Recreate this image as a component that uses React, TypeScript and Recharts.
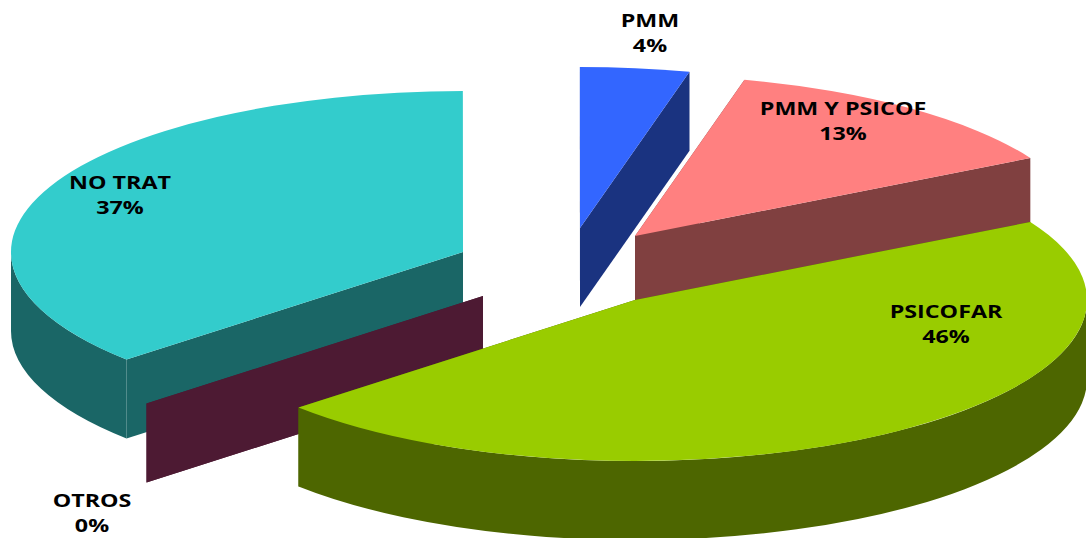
// @ts-nocheck
import { PieChart, Pie, Cell } from 'recharts'

// drawn back to front, going counter-clockwise from the pink slice
const names = ['PMM Y PSICOF', 'PMM', 'NO TRAT', 'OTROS', 'PSICOFAR']
const shares = [13.05, 3.9, 36.63, 0, 46.42]
const labels = ['13%', '4%', '37%', '0%', '46%']
const topColors = ['#ff8080', '#3366ff', '#33cccc', '#993366', '#99cc00']
const sideColors = ['#804040', '#1a3380', '#1a6666', '#4d1a33', '#4d6600']

const slices = names.map((name, i) => ({ name, value: shares[i], pct: labels[i] }))

const RX = 452
const RY = 161
const DEPTH = 79

// how far each slice is pulled out of the pie
const explode = {
  'PMM Y PSICOF': [0, -64],
  PMM: [-55, -72],
  'NO TRAT': [-172, -48],
  OTROS: [-152, -4],
  PSICOFAR: [0, 0],
}

const labelAt = {
  'PMM Y PSICOF': [843, 115],
  PMM: [650, 27],
  'NO TRAT': [120, 189],
  OTROS: [92, 507],
  PSICOFAR: [946, 318],
}

const rad = (a) => (a * Math.PI) / 180

function Slice3D(props) {
  const { cx, cy, startAngle, endAngle, name, index } = props
  const [dx, dy] = explode[name]
  const x = cx + dx
  const y = cy + dy
  const pt = (a) => [x + RX * Math.cos(rad(a)), y - RY * Math.sin(rad(a))]
  const [sx, sy] = pt(startAngle)
  const [ex, ey] = pt(endAngle)
  const large = endAngle - startAngle > 180 ? 1 : 0

  const wall = (px, py) =>
    `M${x},${y} L${px},${py} L${px},${py + DEPTH} L${x},${y + DEPTH} Z`

  // the rim only shows on the lower half of the ellipse
  const rims = []
  for (const [lo, hi] of [[180, 360], [540, 720]]) {
    const a = Math.max(startAngle, lo)
    const b = Math.min(endAngle, hi)
    if (b > a) {
      const [ax, ay] = pt(a)
      const [bx, by] = pt(b)
      rims.push(
        `M${ax},${ay} A${RX},${RY} 0 0 0 ${bx},${by} L${bx},${by + DEPTH} A${RX},${RY} 0 0 1 ${ax},${ay + DEPTH} Z`
      )
    }
  }

  const side = sideColors[index]
  return (
    <g>
      <path d={wall(sx, sy)} fill={side} />
      <path d={wall(ex, ey)} fill={side} />
      {rims.map((d, i) => (
        <path key={i} d={d} fill={side} />
      ))}
      {endAngle > startAngle && (
        <path
          d={`M${x},${y} L${sx},${sy} A${RX},${RY} 0 ${large} 0 ${ex},${ey} Z`}
          fill={topColors[index]}
        />
      )}
    </g>
  )
}

function SliceLabel({ name, pct }) {
  const [x, y] = labelAt[name]
  // the original text is stretched sideways
  return (
    <text
      transform={`translate(${x},${y}) scale(1.37,1)`}
      textAnchor="middle"
      fontFamily="'Open Sans', sans-serif"
      fontWeight="700"
      fontSize={17}
      fill="#000"
    >
      <tspan x={0} y={0}>{name}</tspan>
      <tspan x={0} y={25}>{pct}</tspan>
    </text>
  )
}

export default function App() {
  return (
    <div style={{ position: 'absolute', left: 0, top: 0, width: 1086, height: 538, background: '#fff' }}>
      <PieChart width={1086} height={538} margin={{ top: 0, right: 0, bottom: 0, left: 0 }}>
        <Pie
          data={slices}
          dataKey="value"
          nameKey="name"
          cx={635}
          cy={300}
          innerRadius={0}
          outerRadius={RX}
          startAngle={29}
          endAngle={389}
          stroke="none"
          shape={Slice3D}
          label={SliceLabel}
          labelLine={false}
          isAnimationActive={false}
        >
          {slices.map((s, i) => (
            <Cell key={s.name} fill={topColors[i]} />
          ))}
        </Pie>
      </PieChart>
    </div>
  )
}
